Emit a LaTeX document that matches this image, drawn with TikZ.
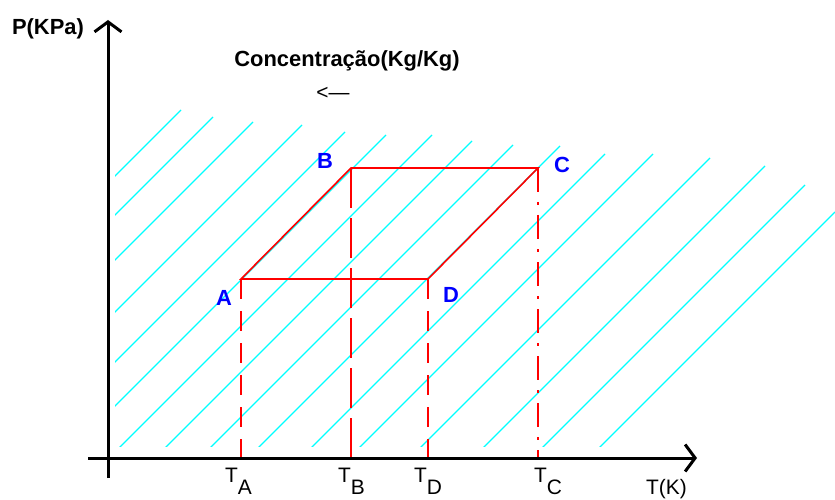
\documentclass[tikz,border=0pt]{standalone}
\usepackage{fontspec}
\setmainfont{Liberation Sans}
\usetikzlibrary{arrows.meta,positioning}
\definecolor{HatchCyan}{HTML}{00FFFF}
\definecolor{CycleRed} {HTML}{FF0000}
\definecolor{PointBlue}{HTML}{0000FF}
\tikzset{
  hatchline/.style={HatchCyan,line width=1.2bp},
  cycleline/.style={CycleRed,line width=1.6bp},
  dropline/.style={CycleRed,line width=1.6bp,dash pattern=on 20bp off 12bp},
  axisline/.style={line width=3bp,-{Straight Barb[length=10bp,width=27bp]}},
  pointlabel/.style={text=PointBlue,font=\fontsize{22}{24}\selectfont\bfseries,inner sep=0pt},
  ticklabel/.style={font=\fontsize{21}{24}\selectfont,inner sep=0pt,anchor=base west},
  axislabel/.style={font=\fontsize{22}{24}\selectfont\bfseries,inner sep=0pt,anchor=base}
}
\newcommand{\sublow}[1]{\lower0.6em\hbox{#1}}

\begin{document}
\begin{tikzpicture}[x=1bp,y=-1bp]
  \useasboundingbox (0,0) rectangle (835,500);
  % hatched region
  \begin{scope}
    \clip (115,0) rectangle (835,446);
    \foreach \hx/\hy in {181/110,213/117,253/122,302/125,345/132,386/135,432/135,472/141,
                         513/145,560/146,605/154,653/154,710/158,765/166,805/185,835/212}
      \draw[hatchline] (\hx,\hy) -- ++(-420,420);
  \end{scope}

  \coordinate (A) at (241,279);
  \coordinate (B) at (351,168);
  \coordinate (C) at (538,168);
  \coordinate (D) at (428,279);
  \coordinate (O) at (108,458);
  \coordinate (xstart) at (88,458);
  \coordinate (xend) at (697,458);
  \coordinate (ystart) at (108,478);
  \coordinate (yend) at (108,20);

  % cycle
  \draw[cycleline] (A) -- (B) -- (C) -- (D) -- cycle;
  \draw[dropline] (A) -- (A |- O);
  \draw[dropline,dash pattern=on 40bp off 10bp] (B) -- (B |- O);
  \draw[dropline] (D) -- (D |- O);
  \draw[dropline,dash pattern=on 24bp off 10bp on 3bp off 10bp] (C) -- (C |- O);

  % axes
  \draw[axisline] (xstart) -- (xend);
  \draw[axisline] (ystart) -- (yend);

  \node[pointlabel] (labA) at (224,298) {A};
  \node[pointlabel] (labB) at (325,161) {B};
  \node[pointlabel] (labC) at (562,165) {C};
  \node[pointlabel] (labD) at (451,295) {D};

  \node[ticklabel] (tA) at (225,482) {T\sublow{A}};
  \node[ticklabel] (tB) at (338,482) {T\sublow{B}};
  \node[ticklabel] (tD) at (414,482) {T\sublow{D}};
  \node[ticklabel] (tC) at (534,482) {T\sublow{C}};
  \node[ticklabel] (tK) at (646,494) {T(K)};

  \node[axislabel] (yname) at (48,35) {P(KPa)};
  \node[axislabel] (conc) at (347,67) {Concentração(Kg/Kg)};
  \node[axislabel,font=\fontsize{21}{24}\selectfont] (concdir) at (333,100) {<—};
\end{tikzpicture}
\end{document}
